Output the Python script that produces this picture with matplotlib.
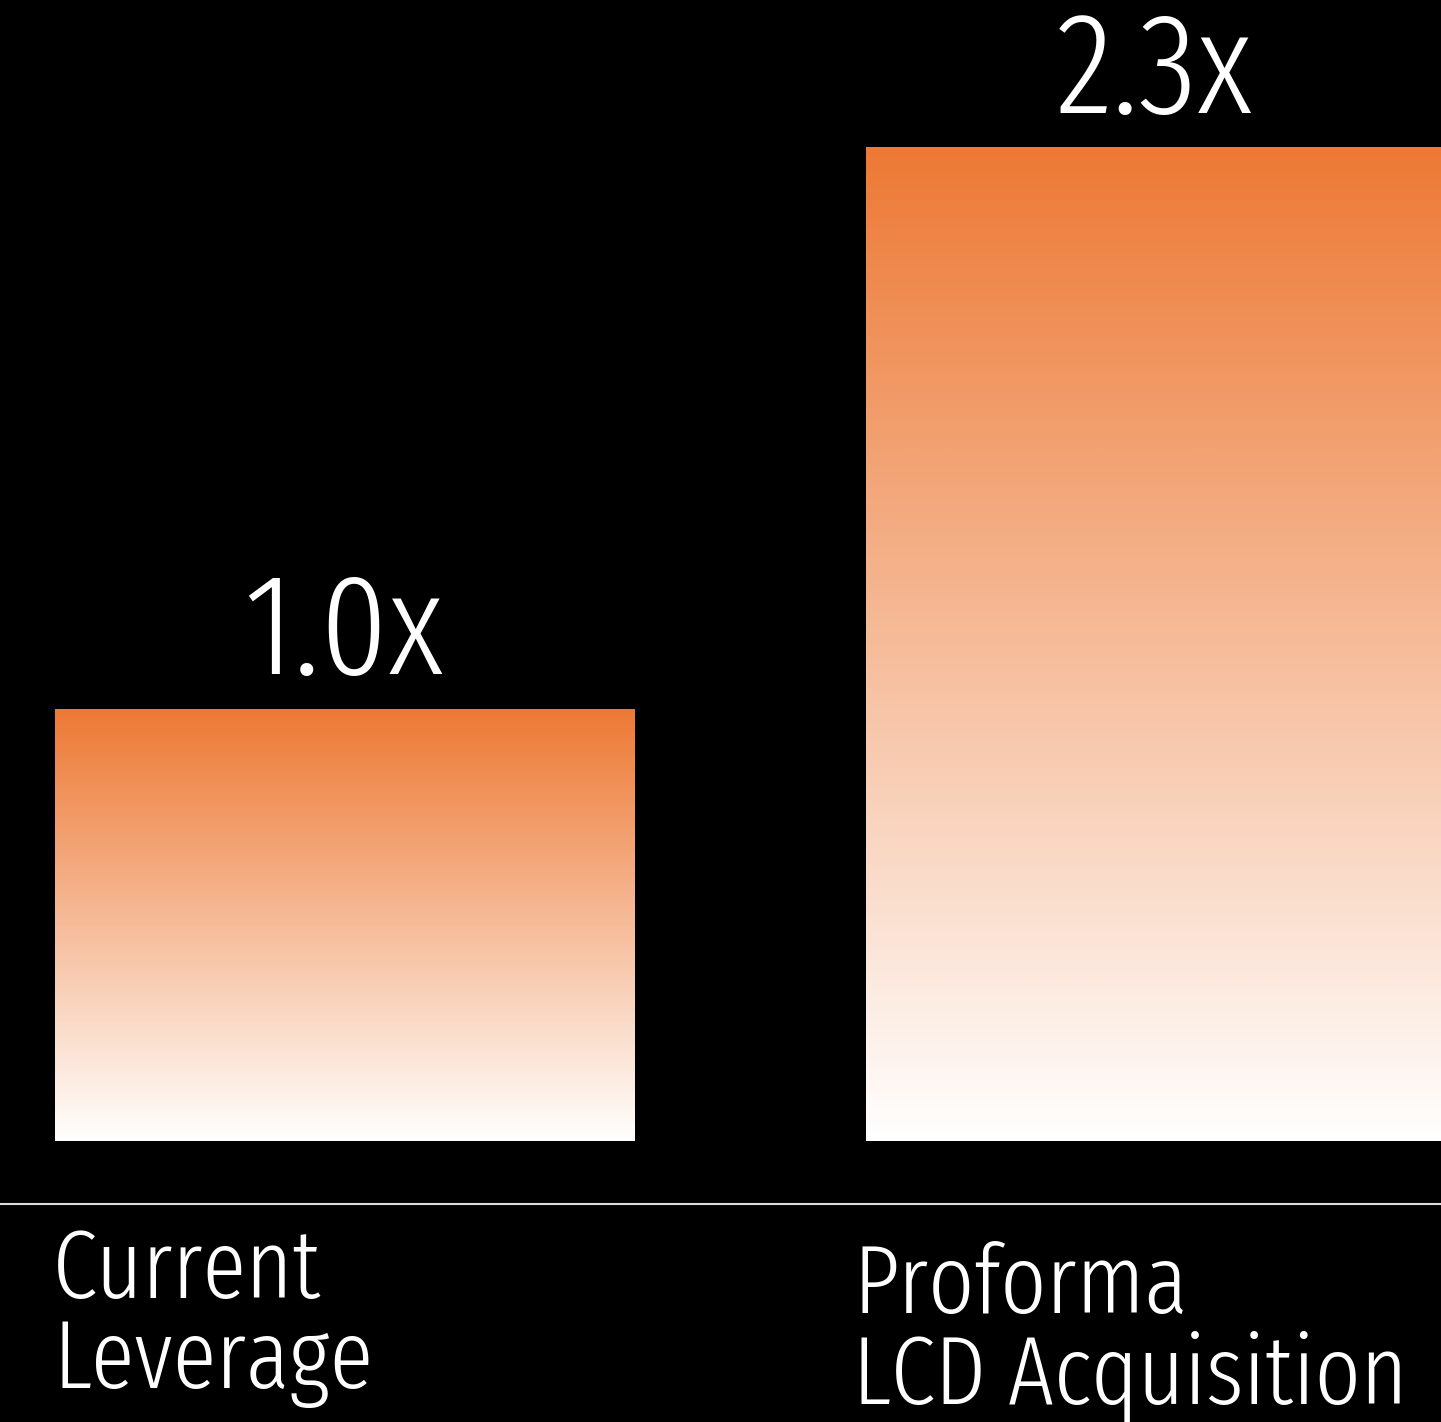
import numpy as np
import matplotlib.pyplot as plt
from matplotlib.colors import LinearSegmentedColormap
from matplotlib.lines import Line2D

# DATA
categories = ['Current\nLeverage', 'Proforma\nLCD Acquisition']
values = [1.0, 2.3]
value_labels = ['1.0x', '2.3x']

plt.rcParams['font.family'] = ['Fira Sans Extra Condensed', 'DejaVu Sans']
plt.rcParams['font.weight'] = 300

W, H = 1441, 1422
fig = plt.figure(figsize=(W / 100, H / 100), dpi=100, facecolor='black')

# axes: bottom of bars at 1141 px from top, fills the rest upwards
bar_bottom_px = 1141
ax = fig.add_axes([0, (H - bar_bottom_px) / H, 1, bar_bottom_px / H])
ax.set_facecolor('black')
ax.axis('off')

px_per_unit = 432.0

cmap = LinearSegmentedColormap.from_list('grad', ['#FFFFFF', '#ED7935'])
grad = np.linspace(0, 1, 256).reshape(-1, 1)

x = np.arange(len(values))
bars = ax.bar(x, values, width=0.714, color='none', edgecolor='none')
for b in bars:
    x0, w, h = b.get_x(), b.get_width(), b.get_height()
    im = ax.imshow(grad, cmap=cmap, origin='lower', aspect='auto',
                   extent=(x0, x0 + w, 0, h), interpolation='bicubic', zorder=2)
    im.set_clip_path(b)

ax.set_ylim(0, bar_bottom_px / px_per_unit)
ax.set_xlim(-0.4248, 1.352)

for xi, v, lab in zip(x, values, value_labels):
    ax.text(xi, v + 0.08, lab, ha='center', va='baseline', color='white',
            fontsize=104)

# baseline rule
ly = (H - 1204) / H
fig.add_artist(Line2D([0, 1], [ly, ly], color='#DDDDDD', lw=1.5,
                      transform=fig.transFigure))

# category labels, one line at a time
label_x = [53, 853]
label_base = [1298, 1313]
line_gap = 90
for cat, lx, lb in zip(categories, label_x, label_base):
    for i, line in enumerate(cat.split('\n')):
        fig.text(lx / W, (H - (lb + i * line_gap)) / H, line, ha='left',
                 va='baseline', color='white', fontsize=70)

plt.savefig('out.png', dpi=100, facecolor='black')
